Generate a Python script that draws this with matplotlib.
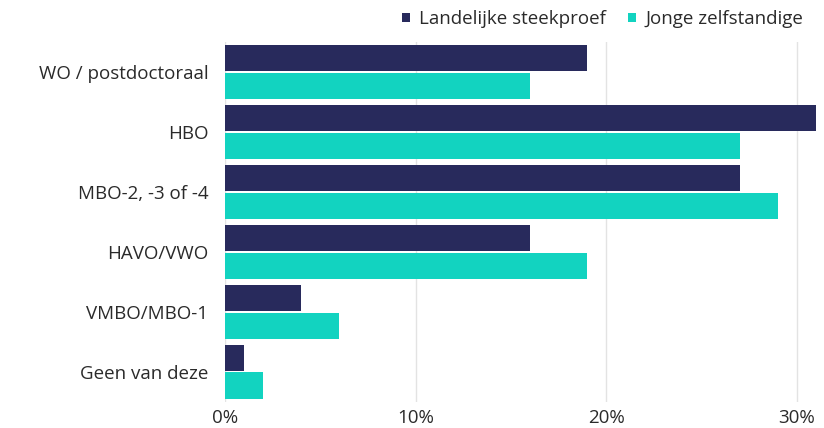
import numpy as np
import matplotlib.pyplot as plt

plt.rcParams['font.family'] = ['Open Sans', 'DejaVu Sans']

categories = ["WO / postdoctoraal", "HBO", "MBO-2, -3 of -4", "HAVO/VWO", "VMBO/MBO-1", "Geen van deze"]
landelijk = [19, 31, 27, 16, 4, 1]
jonge = [16, 27, 29, 19, 6, 2]
series_names = ["Landelijke steekproef", "Jonge zelfstandige"]
xticks = [0, 10, 20, 30]

navy = "#282A5C"
teal = "#12D3C0"


def main():
    fig = plt.figure(figsize=(8.24, 4.28), dpi=100)
    ax = fig.add_axes([0.273, 0.061, 0.717, 0.841])

    y = np.arange(len(categories))
    h = 0.44
    gap = 0.02
    b1 = ax.barh(y - h / 2 - gap / 2, landelijk, height=h, color=navy, label=series_names[0], zorder=3)
    b2 = ax.barh(y + h / 2 + gap / 2, jonge, height=h, color=teal, label=series_names[1], zorder=3)

    ax.set_xlim(0, 31)
    ax.set_ylim(len(categories) - 0.5, -0.5)
    ax.set_yticks(y)
    ax.set_yticklabels(categories, fontsize=13.5, color="#2a2a2a")
    ax.set_xticks(xticks)
    ax.set_xticklabels([f"{t}%" for t in xticks], fontsize=13.5, color="#2a2a2a")
    ax.tick_params(length=0, pad=5)
    ax.tick_params(axis="y", pad=12)
    ax.grid(axis="x", color="#e3e3e3", linewidth=1, zorder=0)
    for s in ax.spines.values():
        s.set_visible(False)

    leg = fig.legend(handles=[b1, b2], loc="upper right", bbox_to_anchor=(0.995, 1.015),
                     ncol=2, frameon=False, fontsize=13.5, handlelength=0.4, handleheight=0.4,
                     handletextpad=0.5, columnspacing=1.2)
    for t in leg.get_texts():
        t.set_color("#2a2a2a")

    fig.savefig("out.png", dpi=100)


if __name__ == "__main__":
    main()
